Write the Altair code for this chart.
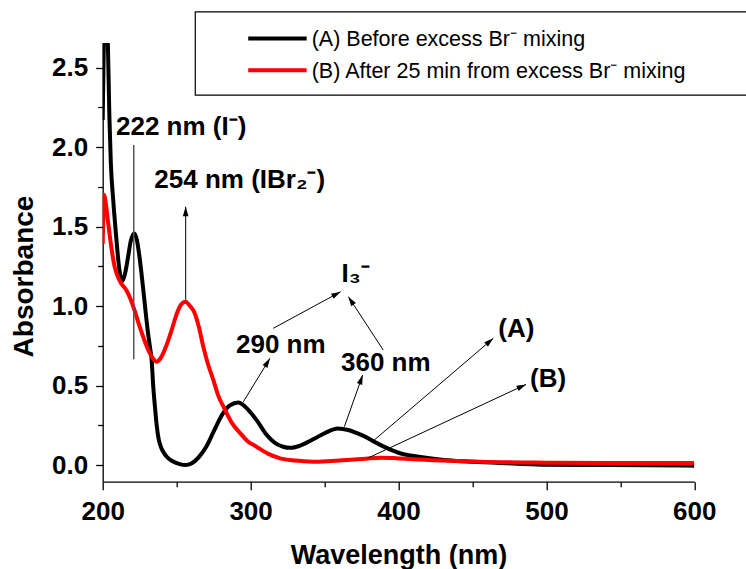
import math
import altair as alt
import pandas as pd

# ---------------- data ----------------
wl_A = [200, 201, 202, 203, 203.5, 204.5, 205.5, 207, 209, 211, 213, 215, 217, 219,
        221.4, 223, 225, 227, 228.6, 230.5, 232, 233.1, 234.2, 235.3, 236.5, 237.8, 239.5,
        241.5, 243.3, 247, 252, 256, 260, 265, 270, 275, 281, 286, 291.7, 296, 300, 305, 310,
        318, 322, 327, 333, 342, 350, 359, 366, 372, 377, 382, 388, 395, 401, 408, 415,
        425, 433, 450, 477, 500, 543, 600]
abs_A = [2.17, 2.8, 2.95, 2.8, 2.65, 2.2, 1.9, 1.68, 1.45, 1.25, 1.155, 1.2, 1.3, 1.41,
         1.457, 1.42, 1.3, 1.14, 1.0, 0.84, 0.74, 0.66, 0.49, 0.37, 0.25, 0.165, 0.11,
         0.075, 0.052, 0.025, 0.006, 0.0, 0.01, 0.05, 0.115, 0.21, 0.32, 0.375, 0.394, 0.37, 0.33,
         0.27, 0.2, 0.13, 0.115, 0.108, 0.12, 0.16, 0.2, 0.23, 0.22, 0.2, 0.18, 0.155,
         0.125, 0.095, 0.074, 0.06, 0.05, 0.038, 0.03, 0.02, 0.01, 0.002, 0.0, -0.004]

wl_B = [200, 200.5, 201, 202, 204, 206, 208, 210, 212, 216, 219, 222, 225, 228, 231, 234,
        236.5, 239, 243, 247, 250, 253, 256, 259, 262, 265, 268, 271, 275, 278, 282, 287,
        293, 298, 304, 312, 320, 330, 342, 355, 365, 378, 388, 398, 410, 430, 455, 500,
        543, 600]
abs_B = [1.39, 1.6, 1.70, 1.65, 1.50, 1.36, 1.25, 1.19, 1.15, 1.10, 1.04, 0.96, 0.87, 0.79,
         0.72, 0.67, 0.65, 0.67, 0.75, 0.86, 0.95, 1.01, 1.027, 1.0, 0.96, 0.87, 0.745, 0.64,
         0.53, 0.44, 0.36, 0.27, 0.2, 0.15, 0.115, 0.07, 0.042, 0.028, 0.021, 0.026, 0.031,
         0.04, 0.046, 0.043, 0.036, 0.028, 0.021, 0.015, 0.012, 0.012]

series_names = ["(A) Before excess Br\u207b mixing",
                "(B) After 25 min from excess Br\u207b mixing"]
series_colors = ["#000000", "#ff0000"]

x_ticks = [200, 250, 300, 350, 400, 450, 500, 550, 600]
y_ticks = [0, 0.25, 0.5, 0.75, 1.0, 1.25, 1.5, 1.75, 2.0, 2.25, 2.5]

# annotation texts (data units, left/baseline anchored)
ann_text = ["222 nm (I\u207b)", "254 nm (IBr\u2082\u207b)", "I\u2083\u207b", "290 nm",
            "360 nm", "(A)", "(B)"]
ann_tx = [209, 234.9, 361.5, 290.1, 361.1, 467.5, 488.9]
ann_ty = [2.075, 1.74, 1.153, 0.702, 0.593, 0.807, 0.492]

# arrows: start -> tip (data units)
arr_x1 = [256.1, 295.1, 363.4, 315.3, 389.7, 383.6, 378.9]
arr_y1 = [1.04, 0.398, 0.241, 0.860, 0.723, 0.157, 0.042]
arr_x2 = [256.1, 313.1, 375.8, 360.9, 366.1, 464.1, 486.2]
arr_y2 = [1.625, 0.671, 0.566, 1.090, 1.059, 0.797, 0.507]

# plain marker line at 222 nm
vline_x = [221]
vline_y1 = [0.665]
vline_y2 = [2.013]

# ---------------- layout ----------------
FONT = "Liberation Sans"
W, H = 591.6, 438.7
XD = [200, 600]
YD = [-0.105, 2.655]
kx = W / (XD[1] - XD[0])
ky = H / (YD[1] - YD[0])

xscale = alt.Scale(domain=XD, nice=False, zero=False)
yscale = alt.Scale(domain=YD, nice=False, zero=False)

xaxis = alt.Axis(
    values=x_ticks,
    labelExpr="datum.value % 100 == 0 ? datum.label : ''",
    tickSize={"condition": {"test": "datum.value % 100 == 0", "value": 8}, "value": 5},
    labelPadding=9, labelFlush=False, labelOverlap=False,
    title="Wavelength (nm)", titleFontSize=27, titleX=W / 2, titleY=61,
    titleBaseline="top", titleAlign="center",
)
yaxis = alt.Axis(
    values=y_ticks,
    labelExpr="abs(datum.value*2 - round(datum.value*2)) < 0.001 ? format(datum.value, '.1f') : ''",
    tickSize={"condition": {"test": "abs(datum.value*2 - round(datum.value*2)) < 0.001", "value": 7},
              "value": 5},
    labelPadding=8, labelFlush=False, labelOverlap=False,
    title="Absorbance", titleFontSize=28, titleAngle=270, titleX=-70, titleY=233,
    titleBaseline="alphabetic", titleAlign="center",
)

X = alt.X("x:Q", scale=xscale, axis=xaxis)
Y = alt.Y("y:Q", scale=yscale, axis=yaxis)

dfA = pd.DataFrame({"x": wl_A, "y": abs_A, "series": series_names[0]})
dfB = pd.DataFrame({"x": wl_B, "y": abs_B, "series": series_names[1]})

lineA = alt.Chart(dfA).mark_line(color=series_colors[0], strokeWidth=4, clip=True,
                                 interpolate="monotone").encode(x=X, y=Y)
lineB = alt.Chart(dfB).mark_line(color=series_colors[1], strokeWidth=4, clip=True,
                                 interpolate="monotone").encode(x=X, y=Y)

df_vl = pd.DataFrame({"x": vline_x, "y": vline_y1, "y2": vline_y2})
vrule = alt.Chart(df_vl).mark_rule(color="#555555", strokeWidth=1.5).encode(
    x=X, y=Y, y2="y2:Q")

# arrow shafts + heads
angles = []
for a, b, c, d in zip(arr_x1, arr_y1, arr_x2, arr_y2):
    dx = (c - a) * kx
    dy = (d - b) * ky
    angles.append(math.degrees(math.atan2(dx, dy)) % 360)
df_arr = pd.DataFrame({"x": arr_x1, "y": arr_y1, "x2": arr_x2, "y2": arr_y2})
df_head = pd.DataFrame({"x": arr_x2, "y": arr_y2, "ang": angles})
shafts = alt.Chart(df_arr).mark_rule(color="black", strokeWidth=1).encode(
    x=X, y=Y, x2="x2:Q", y2="y2:Q")
heads = alt.Chart(df_head).mark_point(
    shape="M0,0L0.6,2L-0.6,2Z", filled=True, color="black", opacity=1, size=90,
    strokeWidth=0).encode(x=X, y=Y, angle=alt.Angle("ang:Q", scale=None))

df_txt = pd.DataFrame({"x": ann_tx, "y": ann_ty, "t": ann_text})
texts = alt.Chart(df_txt).mark_text(
    font=FONT, fontSize=26, fontWeight="bold", align="left", baseline="alphabetic",
    color="black").encode(x=X, y=Y, text="t:N")

# legend drawn as a framed box (data units)
df_box = pd.DataFrame({"x": [262.6], "x2": [660], "y": [2.327], "y2": [2.851]})
box = alt.Chart(df_box).mark_rect(fill="white", stroke="black", strokeWidth=1.2,
                                  clip=False).encode(x=X, y=Y, x2="x2:Q", y2="y2:Q")
df_lsym = pd.DataFrame({"x": [298.4, 298.4], "x2": [337.9, 337.9], "y": [2.684, 2.484],
                        "series": series_names})
lsym = alt.Chart(df_lsym).mark_rule(strokeWidth=4).encode(
    x=X, y=Y, x2="x2:Q",
    color=alt.Color("series:N", scale=alt.Scale(domain=series_names, range=series_colors),
                    legend=None))
df_ltxt = pd.DataFrame({"x": [341.3, 341.3], "y": [2.635, 2.435], "t": series_names})
ltxt = alt.Chart(df_ltxt).mark_text(
    font=FONT, fontSize=21.5, align="left", baseline="alphabetic", color="black").encode(
    x=X, y=Y, text="t:N")

chart = alt.layer(lineA, lineB, vrule, shafts, heads, texts, box, lsym, ltxt).properties(
    width=W, height=H,
    autosize=alt.AutoSizeParams(type="none"),
    padding={"left": 102.7, "top": 43, "right": 746 - 102.7 - W, "bottom": 569 - 43 - H},
    background="white",
).configure_view(stroke="transparent").configure_axis(
    grid=False, domainColor="black", domainWidth=1.3, tickColor="black", tickWidth=1.3,
    labelFont=FONT, labelFontSize=26, labelFontWeight="bold", labelColor="black",
    titleFont=FONT, titleFontWeight="bold", titleColor="black",
)

chart.save("out.html", embed_options={"renderer": "svg", "actions": False})
